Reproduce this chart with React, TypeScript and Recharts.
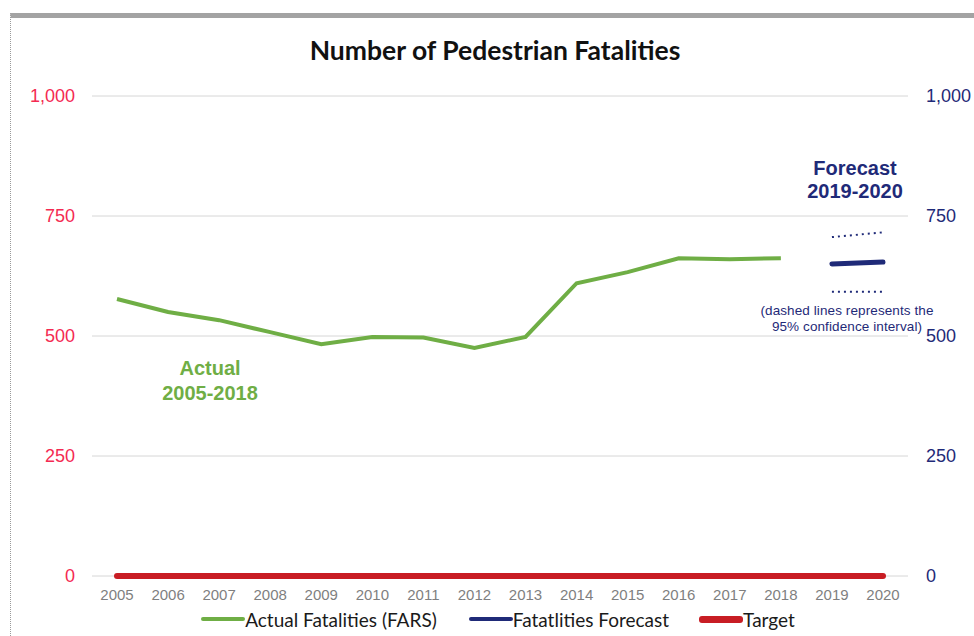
import React from 'react';
import {
  ComposedChart,
  Line,
  XAxis,
  YAxis,
  CartesianGrid,
  Legend,
} from 'recharts';

// Pedestrian fatalities, actual (FARS) and 2019-2020 forecast
const YEARS = [
  '2005', '2006', '2007', '2008', '2009', '2010', '2011', '2012',
  '2013', '2014', '2015', '2016', '2017', '2018', '2019', '2020',
];
const ACTUAL = [577, 550, 533, 508, 483, 498, 497, 475, 498, 610, 633, 662, 660, 662, null, null];
const FORECAST = [null, null, null, null, null, null, null, null, null, null, null, null, null, null, 650, 654];
const UPPER_CI = [null, null, null, null, null, null, null, null, null, null, null, null, null, null, 706, 716];
const LOWER_CI = [null, null, null, null, null, null, null, null, null, null, null, null, null, null, 592, 592];
const TARGET = [0, 0, 0, 0, 0, 0, 0, 0, 0, 0, 0, 0, 0, 0, 0, 0];
const Y_TICKS = [0, 250, 500, 750, 1000];

const GREEN = '#6fae45';
const NAVY = '#1f2a78';
const RED = '#c81d24';
const PINK = '#f42a52';

const data = YEARS.map((year, i) => ({
  year,
  actual: ACTUAL[i],
  forecast: FORECAST[i],
  upper: UPPER_CI[i],
  lower: LOWER_CI[i],
  target: TARGET[i],
}));

const legendItems = [
  { label: 'Actual Fatalities (FARS)', color: GREEN, gap: 32 },
  { label: 'Fatatlities Forecast', color: NAVY, gap: 30 },
  { label: 'Target', color: RED, gap: 0 },
];

function ChartLegend() {
  return (
    <div
      style={{
        height: 34,
        display: 'flex',
        alignItems: 'center',
        justifyContent: 'center',
        paddingLeft: 22,
        fontFamily: 'Lato, sans-serif',
        fontSize: 19,
        color: '#1a1a1a',
      }}
    >
      {legendItems.map((item) => (
        <div key={item.label} style={{ display: 'flex', alignItems: 'center', marginRight: item.gap }}>
          <span
            style={{
              display: 'inline-block',
              width: 44,
              height: item.color === RED ? 7 : 4,
              borderRadius: 3,
              background: item.color,
            }}
          />
          <span>{item.label}</span>
        </div>
      ))}
    </div>
  );
}

const fmt = (v: number) => v.toLocaleString('en-US');

export default function App() {
  return (
    <div
      style={{
        position: 'fixed',
        left: 0,
        top: 0,
        width: 974,
        height: 636,
        background: '#fff',
        fontFamily: 'Arial, "Liberation Sans", sans-serif',
      }}
    >
      {/* frame */}
      <div
        style={{
          position: 'absolute',
          left: 10,
          top: 13,
          right: 0,
          bottom: 0,
          borderTop: '5px solid #a3a3a3',
          borderLeft: '1px dotted #9a9a9a',
        }}
      />
      <div
        style={{
          position: 'absolute',
          top: 34,
          left: 0,
          width: 990,
          textAlign: 'center',
          fontFamily: 'Lato, sans-serif',
          fontWeight: 700,
          fontSize: 26.5,
          color: '#111',
        }}
      >
        Number of Pedestrian Fatalities
      </div>

      <ComposedChart
        width={974}
        height={636}
        data={data}
        margin={{ top: 96, right: 0, bottom: 0, left: 0 }}
        style={{ position: 'absolute', left: 0, top: 0 }}
      >
        {/* the grid line at 0 doubles as the category axis line, kept under the series */}
        <CartesianGrid vertical={false} stroke="#d6d6d6" yAxisId="left" />
        <XAxis
          dataKey="year"
          height={26}
          padding={{ left: 25, right: 25 }}
          tickLine={false}
          axisLine={false}
          tick={{ fill: '#7f7f7f', fontSize: 15 }}
          tickMargin={7}
          interval={0}
        />
        <YAxis
          yAxisId="left"
          width={92}
          domain={[0, 1000]}
          ticks={Y_TICKS}
          tickFormatter={fmt}
          axisLine={false}
          tickLine={false}
          tickMargin={11}
          tick={{ fill: PINK, fontSize: 18 }}
        />
        <YAxis
          yAxisId="right"
          orientation="right"
          width={66}
          domain={[0, 1000]}
          ticks={Y_TICKS}
          tickFormatter={fmt}
          axisLine={false}
          tickLine={false}
          tickMargin={12}
          tick={{ fill: NAVY, fontSize: 18 }}
        />
        <Legend verticalAlign="bottom" content={() => <ChartLegend />} />
        <Line
          yAxisId="left"
          dataKey="actual"
          stroke={GREEN}
          strokeWidth={4}
          dot={false}
          isAnimationActive={false}
        />
        <Line
          yAxisId="right"
          dataKey="upper"
          stroke={NAVY}
          strokeWidth={2}
          strokeDasharray="2 4"
          dot={false}
          legendType="none"
          isAnimationActive={false}
        />
        <Line
          yAxisId="right"
          dataKey="lower"
          stroke={NAVY}
          strokeWidth={2}
          strokeDasharray="2 4"
          dot={false}
          legendType="none"
          isAnimationActive={false}
        />
        <Line
          yAxisId="right"
          dataKey="forecast"
          stroke={NAVY}
          strokeWidth={5}
          strokeLinecap="round"
          dot={false}
          isAnimationActive={false}
        />
        <Line
          yAxisId="left"
          dataKey="target"
          stroke={RED}
          strokeWidth={6}
          strokeLinecap="round"
          dot={false}
          isAnimationActive={false}
        />
      </ComposedChart>

      {/* annotations */}
      <div
        style={{
          position: 'absolute',
          left: 140,
          top: 356,
          width: 140,
          textAlign: 'center',
          color: GREEN,
          fontWeight: 700,
          fontSize: 20,
          lineHeight: '25px',
        }}
      >
        Actual
        <br />
        2005-2018
      </div>
      <div
        style={{
          position: 'absolute',
          left: 785,
          top: 157,
          width: 140,
          textAlign: 'center',
          color: NAVY,
          fontWeight: 700,
          fontSize: 20,
          lineHeight: '23px',
        }}
      >
        Forecast
        <br />
        2019-2020
      </div>
      <div
        style={{
          position: 'absolute',
          left: 727,
          top: 303,
          width: 240,
          textAlign: 'center',
          color: NAVY,
          fontSize: 13.5,
          lineHeight: '16px',
          letterSpacing: 0.1,
        }}
      >
        (dashed lines represents the
        <br />
        95% confidence interval)
      </div>
    </div>
  );
}
